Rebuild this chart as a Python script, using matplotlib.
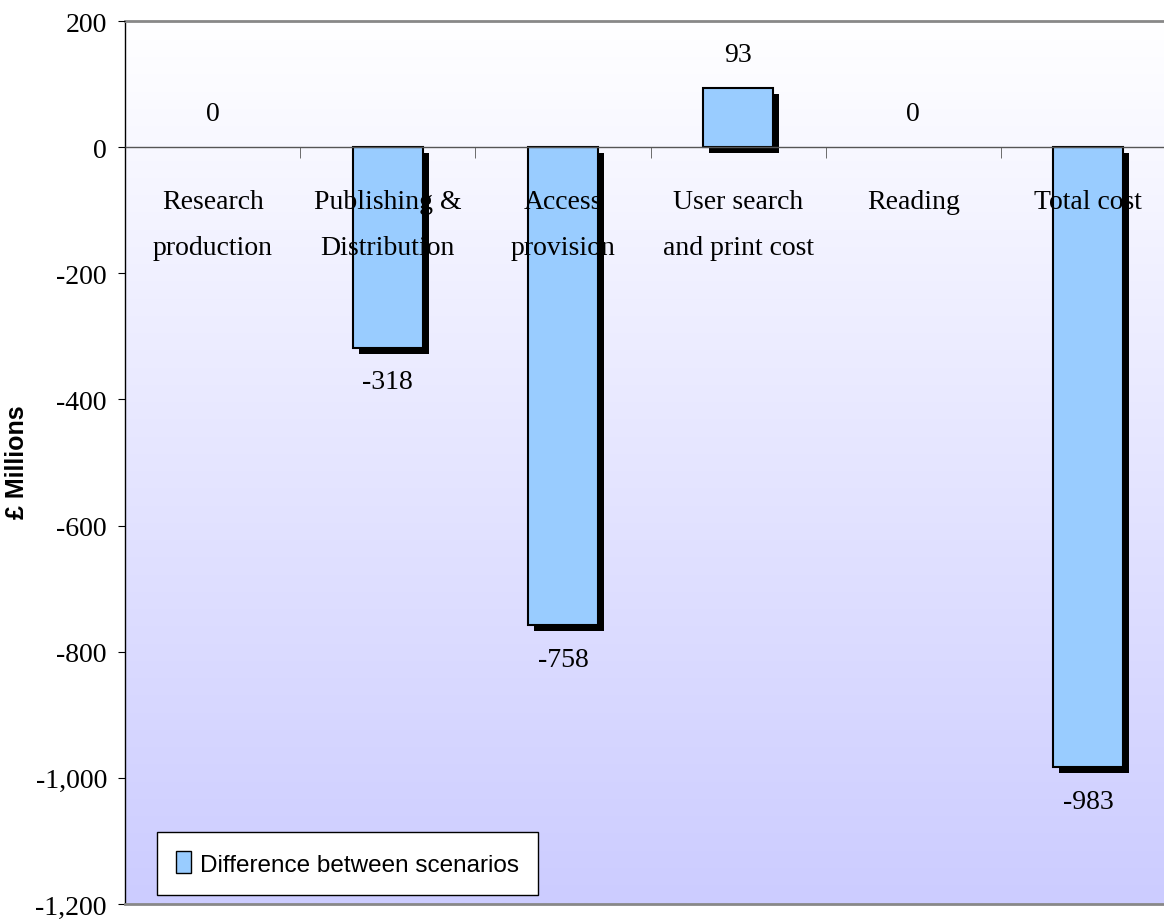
import numpy as np
import matplotlib
matplotlib.use("Agg")
import matplotlib.pyplot as plt
from matplotlib.patches import Patch
from matplotlib.lines import Line2D
from matplotlib.ticker import FuncFormatter, FixedLocator
import matplotlib.patheffects as pe

categories = ["Research\nproduction", "Publishing &\nDistribution", "Access\nprovision",
              "User search\nand print cost", "Reading", "Total cost"]
values = [0, -318, -758, 93, 0, -983]
series_name = "Difference between scenarios"
y_ticks = [200, 0, -200, -400, -600, -800, -1000, -1200]

serif = ["Liberation Serif", "DejaVu Serif"]
sans = ["Liberation Sans", "DejaVu Sans"]

bar_color = "#99CCFF"

fig = plt.figure(figsize=(11.64, 9.2), dpi=100)
ax = fig.add_axes([125 / 1164, 1 - 905 / 920, 1051 / 1164, 883 / 920])
ax.set_axisbelow(False)

x = np.arange(len(categories))
ax.set_xlim(-0.5, len(categories) - 0.5)
ax.set_ylim(min(y_ticks), max(y_ticks))

# vertical background gradient: white at the top fading to lavender
grad = np.linspace(0, 1, 256)[:, None]
top = np.array([1.0, 1.0, 1.0])
bottom = np.array([0xCC, 0xCC, 0xFF]) / 255
img = top[None, None, :] * (1 - grad[:, :, None]) + bottom[None, None, :] * grad[:, :, None]
ax.imshow(img, extent=[-0.5, len(categories) - 0.5, min(y_ticks), max(y_ticks)],
          aspect="auto", origin="upper", zorder=0, interpolation="bilinear")

shadow = [pe.SimplePatchShadow(offset=(4.3, -4.3), shadow_rgbFace="black", alpha=1.0),
          pe.Normal()]
bars = ax.bar(x, values, width=0.4, color=bar_color, edgecolor="black",
              linewidth=1.5, zorder=2)
for b, v in zip(bars, values):
    b.set_path_effects(shadow)
    if v == 0:
        b.set_visible(False)

# value labels above / below each bar
for xi, v in zip(x, values):
    off = 24.5 if v >= 0 else -24.5
    ax.annotate(f"{v}", xy=(xi, v), xytext=(0, off), textcoords="offset points",
                ha="center", va="center", fontsize=20, family=serif, zorder=5)

# zero line acts as the category axis
ax.spines["bottom"].set_position(("data", 0))
ax.spines["bottom"].set_color("#555555")
ax.spines["bottom"].set_linewidth(1.0)
ax.spines["right"].set_visible(False)
ax.spines["top"].set_color("#888888")
ax.spines["top"].set_linewidth(2.0)
ax.spines["left"].set_color("black")
ax.spines["left"].set_linewidth(1.0)
ax.add_line(Line2D([0, 1], [0, 0], transform=ax.transAxes, color="#888888",
                   linewidth=2.0, clip_on=False, zorder=3))

ax.set_xticks(x)
ax.set_xticklabels(categories, family=serif, fontsize=20, linespacing=2.1)
ax.xaxis.set_minor_locator(FixedLocator(np.arange(0.5, len(categories) - 1, 1.0)))
ax.tick_params(axis="x", which="major", length=0, pad=30)
ax.tick_params(axis="x", which="minor", length=8, direction="out", color="#555555")

ax.set_yticks(y_ticks)
ax.yaxis.set_major_formatter(FuncFormatter(lambda v, p: f"{v:,.0f}"))
ax.tick_params(axis="y", length=5, direction="out", pad=8)
for lab in ax.get_yticklabels():
    lab.set_family(serif)
    lab.set_fontsize(20)

ax.set_ylabel("£ Millions", family=sans, fontweight="bold", fontsize=18)
ax.yaxis.set_label_coords(-96 / 1051, (905 - 462) / 883)

leg = ax.legend(handles=[Patch(facecolor=bar_color, edgecolor="black", linewidth=1.0,
                               label=series_name)],
                loc="lower left", bbox_to_anchor=(32 / 1051, 9 / 883), borderaxespad=0,
                fancybox=False, framealpha=1.0, edgecolor="black",
                prop={"family": sans, "size": 17.5},
                handlelength=0.6, handleheight=1.0, handletextpad=0.35, borderpad=0.8)
leg.get_frame().set_linewidth(1.0)

fig.savefig("out.png", dpi=100)
